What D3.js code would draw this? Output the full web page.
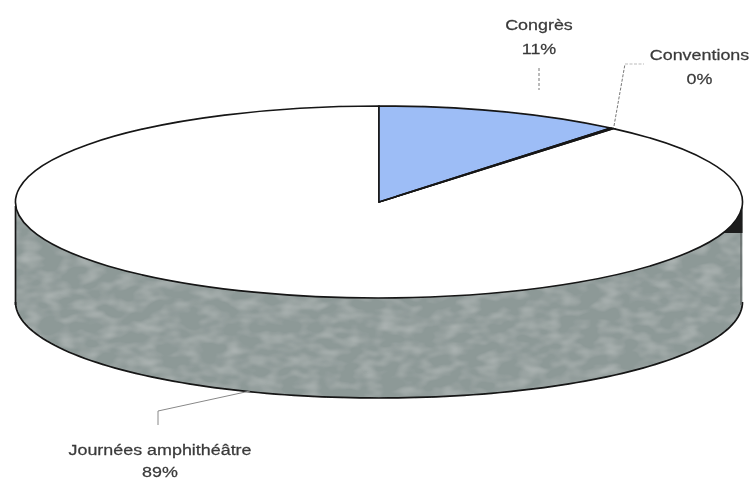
<!DOCTYPE html>
<html><head><meta charset="utf-8">
<script src="https://cdn.jsdelivr.net/npm/d3@7"></script>
<style>html,body{margin:0;padding:0;background:#fff}svg{display:block}</style></head>
<body><svg id="c" width="751" height="481"></svg>
<script>
const categories = ["Congrès", "Conventions", "Journées amphithéâtre"];
const values = [11, 0.15, 88.85];
const percentLabels = ["11%", "0%", "89%"];
const sliceColors = ["#9dbdf6", "#222222", "#ffffff"];
const wallColors = ["#9dbdf6", "#222222", "#8d9997"];

const W = 751, H = 481, cx = 379, cy = 202, rx = 363.5, ry = 96, depth = 100;
const svg = d3.select("#c");
const defs = svg.append("defs");
defs.append("filter").attr("id","soft").append("feGaussianBlur").attr("stdDeviation",0.45);
const mottle = defs.append("filter").attr("id","mottle").attr("x",0).attr("y",0).attr("width",1).attr("height",1);
mottle.append("feTurbulence").attr("type","fractalNoise").attr("baseFrequency","0.05 0.09").attr("numOctaves",2).attr("seed",4).attr("result","n");
mottle.append("feColorMatrix").attr("in","n").attr("type","matrix")
  .attr("values","0 0 0 0 1  0 0 0 0 1  0 0 0 0 1  0.4 0 0 0 -0.16").attr("result","spots");
mottle.append("feComposite").attr("in","spots").attr("in2","SourceAlpha").attr("operator","in").attr("result","clipped");
const mm = mottle.append("feMerge");
mm.append("feMergeNode").attr("in","SourceGraphic");
mm.append("feMergeNode").attr("in","clipped");
const root = svg.append("g").attr("filter","url(#soft)");

const arcs = d3.pie().sort(null).value(d => d)(values);
const px = t => cx + rx * Math.sin(t), py = t => cy - ry * Math.cos(t);

// walls: only the front half (90deg..270deg) is visible
const walls = root.append("g");
arcs.forEach((a,i) => {
  const s = Math.max(a.startAngle, Math.PI/2), e = Math.min(a.endAngle, 3*Math.PI/2);
  if (e <= s) return;
  const ts = d3.range(0,121).map(k => s + (e-s)*k/120);
  const area = d3.area().x(px).y0(py).y1(t => py(t)+depth);
  walls.append("path").attr("d",area(ts)).attr("fill",wallColors[i]).attr("filter","url(#mottle)");
  const bottom = d3.line().x(px).y(t => py(t)+depth);
  walls.append("path").attr("d",bottom(ts)).attr("fill","none").attr("stroke","#141414").attr("stroke-width",1.7);
});
// wall edges
const L = 3*Math.PI/2, R = Math.PI/2;
root.append("line").attr("x1",px(L)).attr("x2",px(L)).attr("y1",py(L)+4).attr("y2",py(L)+depth+3)
  .attr("stroke","#141414").attr("stroke-width",1.7);
root.append("line").attr("x1",px(R)-1.5).attr("x2",px(R)-1.5).attr("y1",py(R)+30).attr("y2",py(R)+depth+3)
  .attr("stroke","#5a5f5e").attr("stroke-width",1.2);

// top slices
const arcGen = d3.arc().innerRadius(0).outerRadius(rx);
root.append("g").attr("transform",`translate(${cx},${cy}) scale(1,${ry/rx})`)
  .selectAll("path").data([arcs[2],arcs[0],arcs[1]]).join("path")
  .attr("d",arcGen)
  .attr("fill",d => sliceColors[d.index])
  .attr("stroke","#141414").attr("stroke-width",1.6)
  .attr("vector-effect","non-scaling-stroke");

// dark wedge at the right rim, under the ellipse edge
const wedgeAngles = d3.range(0,13).map(k => Math.PI/2 + (k/12)*0.33);
const wedgePts = wedgeAngles.map(t => [px(t), py(t)]);
const wedgeBase = py(wedgeAngles[wedgeAngles.length-1]);
wedgePts.push([px(R), wedgeBase]);
root.append("path").attr("d",d3.line()(wedgePts)+"Z").attr("fill","#1a1a1a");

// leader lines
const leaders = root.append("g").attr("fill","none");
leaders.append("path").attr("d",d3.line()([[539,68],[539,90]])).attr("stroke","#777").attr("stroke-width",1).attr("stroke-dasharray","3 2");
leaders.append("path").attr("d",d3.line()([[614,126],[625,64]])).attr("stroke","#777").attr("stroke-width",1).attr("stroke-dasharray","3 1.5");
leaders.append("path").attr("d",d3.line()([[625,64],[644,64]])).attr("stroke","#bbb").attr("stroke-width",1).attr("stroke-dasharray","3 1.5");
leaders.append("path").attr("d",d3.line()([[250,391],[158,411],[158,425]])).attr("stroke","#888").attr("stroke-width",1);

// labels
const labelPos = [[539,30,54],[699.5,60,84],[160,455,477]];
const labels = root.append("g").attr("font-family","'Liberation Sans',Arial,sans-serif").attr("font-size",15.5).attr("fill","#3a3a3a").attr("stroke","#3a3a3a").attr("stroke-width",0.25).attr("text-anchor","middle");
categories.forEach((c,i) => {
  labels.append("text").attr("transform",`translate(${labelPos[i][0]},${labelPos[i][1]}) scale(1.155,1)`).text(c);
  labels.append("text").attr("transform",`translate(${labelPos[i][0]},${labelPos[i][2]}) scale(1.155,1)`).text(percentLabels[i]);
});
</script></body></html>
